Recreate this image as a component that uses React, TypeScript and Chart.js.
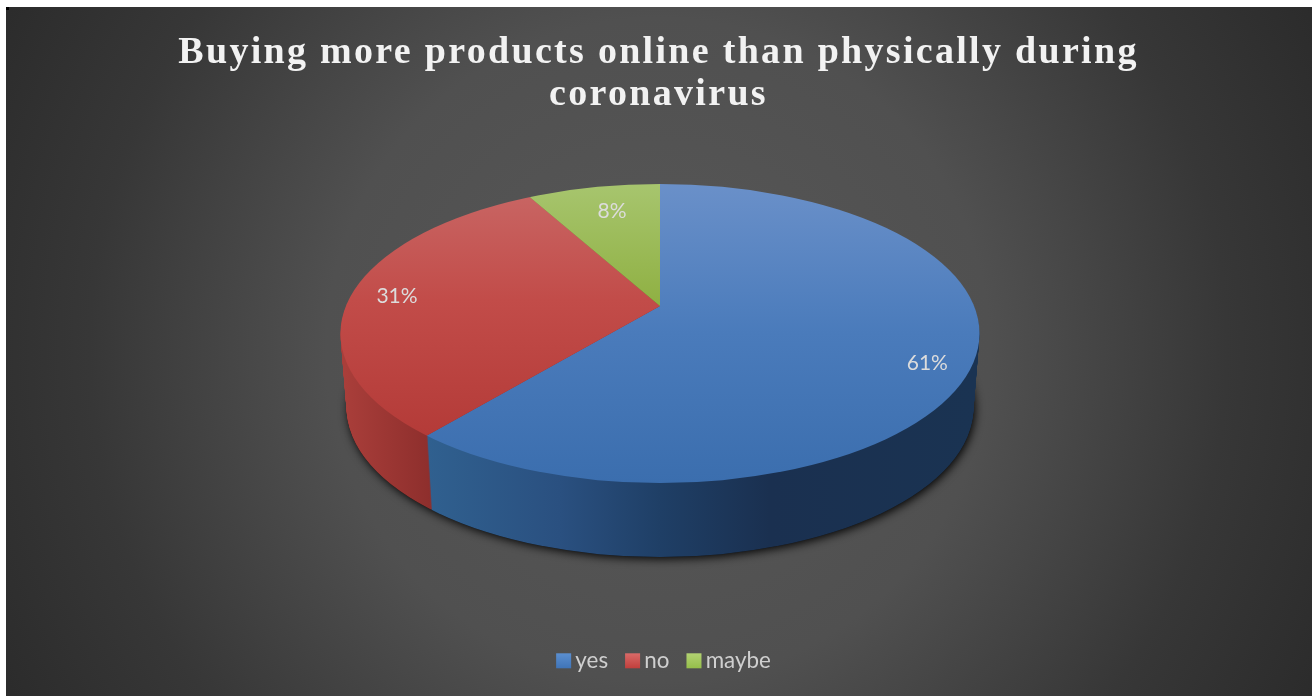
import React, { useEffect, useRef } from "react";
import { Chart, registerables } from "chart.js";

Chart.register(...registerables);

const titleLines = ["Buying more products online than physically during", "coronavirus"];
const categories = ["yes", "no", "maybe"];
const shares = [61, 31, 8];
const sliceColors = ["#4a7ebb", "#be4b48", "#98b954"];
const swatchTones = [
  ["#5b8fd0", "#3f74b8"],
  ["#d96a68", "#c23f3c"],
  ["#b2d272", "#95bf4a"],
];

// Stops for the lit top face of each slice: [canvas y, colour].
const topShades: [number, string][][] = [
  [[184, "#6a90c9"], [333, "#4a7bbb"], [483, "#3b6eae"]],
  [[198, "#c86462"], [300, "#c24c49"], [435, "#b43b38"]],
  [[184, "#a7c56e"], [306, "#8fb042"]],
];
// Stops for the side wall of each slice: [canvas x, colour].
const wallShades: [number, string][][] = [
  [[428, "#30608f"], [560, "#2a5080"], [660, "#1f3f66"], [770, "#1a3050"], [975, "#1a3352"]],
  [[345, "#a93e3a"], [433, "#8d2e2c"]],
  [[530, "#6f8a3a"], [660, "#5d7530"]],
];
const labelReach = [0.674, 0.629, 0.507];
const labelShiftX = [1, 0, 5];
const labelShiftY = [13, 2, 0];

// Geometry of the tilted disc on the canvas.
const APEX_X = 660;
const APEX_Y = 306;
const RIM_CY = 333.5;
const RIM_RX = 319.5;
const RIM_RY = 149.5;
const DEPTH = 74;
const FACE_R = 420;
const TILT = 0.46;
const TAPER = 0.019;

function shaded(
  ctx: CanvasRenderingContext2D,
  stops: [number, string][],
  axis: "x" | "y",
  toLocal: (v: number) => number,
) {
  const a = toLocal(stops[0][0]);
  const b = toLocal(stops[stops.length - 1][0]);
  const g = axis === "y" ? ctx.createLinearGradient(0, a, 0, b) : ctx.createLinearGradient(a, 0, b, 0);
  const span = stops[stops.length - 1][0] - stops[0][0];
  stops.forEach(([v, c]) => g.addColorStop((v - stops[0][0]) / span, c));
  return g;
}

const tiltedPie = {
  id: "tiltedPie",
  beforeDraw(chart: any) {
    const { ctx, width, height } = chart;
    ctx.save();
    ctx.fillStyle = "#ffffff";
    ctx.fillRect(0, 0, width, height);
    const bg = ctx.createRadialGradient(658, 350, 0, 658, 350, 790);
    bg.addColorStop(0, "#585858");
    bg.addColorStop(0.42, "#505050");
    bg.addColorStop(0.72, "#373737");
    bg.addColorStop(1, "#282828");
    ctx.fillStyle = bg;
    ctx.fillRect(6, 7, width - 6, height - 7);
    ctx.fillStyle = "#000000";
    ctx.fillRect(6, 7, 3, 3);
    ctx.restore();

    // Only the title is letter-spaced, so its draw call is wrapped on its own.
    const block = chart.titleBlock;
    if (block && !block.__spaced) {
      const draw = block.draw;
      block.draw = function (...args: any[]) {
        ctx.save();
        ctx.letterSpacing = "2.3px";
        ctx.translate(-7, 0);
        draw.apply(this, args);
        ctx.restore();
      };
      block.__spaced = true;
    }
  },
  beforeDatasetsDraw(chart: any) {
    const { ctx } = chart;
    const arcs = chart.getDatasetMeta(0).data;
    const r = arcs[0].outerRadius;
    const cx = arcs[0].x;
    const cy = arcs[0].y;
    const sx = FACE_R / r;
    const sy = sx * TILT;

    // Soft shadow cast by the underside of the disc.
    ctx.save();
    ctx.shadowColor = "rgba(0,0,0,0.95)";
    ctx.shadowBlur = 10;
    ctx.shadowOffsetX = 1.5;
    ctx.shadowOffsetY = 2;
    ctx.fillStyle = "#111111";
    ctx.beginPath();
    ctx.ellipse(APEX_X, RIM_CY + DEPTH, RIM_RX * (1 - TAPER), RIM_RY, 0, 0, Math.PI * 2);
    ctx.fill();
    ctx.restore();

    const paintLayer = (d: number) => {
      const k = 1 - (TAPER * d) / DEPTH;
      ctx.save();
      ctx.beginPath();
      ctx.ellipse(APEX_X, RIM_CY + d, RIM_RX * k, RIM_RY, 0, 0, Math.PI * 2);
      ctx.clip();
      ctx.translate(APEX_X, APEX_Y + d);
      ctx.scale(sx * k, sy);
      ctx.translate(-cx, -cy);
      arcs.forEach((arc: any, i: number) => {
        const fill =
          d === 0
            ? shaded(ctx, topShades[i], "y", (y) => cy + (y - APEX_Y) / sy)
            : shaded(ctx, wallShades[i], "x", (x) => cx + (x - APEX_X) / (sx * k));
        const own = arc.options;
        arc.options = Object.create(own, { backgroundColor: { value: fill } });
        arc.draw(ctx);
        arc.options = own;
      });
      ctx.restore();
    };

    for (let d = DEPTH; d >= 0; d--) paintLayer(d);

    // Percentage labels on the top face.
    ctx.save();
    ctx.font = '21px Lato, "Open Sans", sans-serif';
    ctx.fillStyle = "#dcdcdc";
    ctx.textAlign = "center";
    ctx.textBaseline = "middle";
    arcs.forEach((arc: any, i: number) => {
      const mid = (arc.startAngle + arc.endAngle) / 2;
      const reach = FACE_R * labelReach[i];
      const x = APEX_X + reach * Math.cos(mid) + labelShiftX[i];
      const y = APEX_Y + reach * TILT * Math.sin(mid) + labelShiftY[i];
      ctx.fillText(`${shares[i]}%`, x, y);
    });
    ctx.restore();
    return false;
  },
  afterDraw(chart: any) {
    // Legend swatches sit tighter to their text than the built-in box allows.
    const { ctx, legend } = chart;
    ctx.save();
    legend.legendHitBoxes.forEach((box: any, i: number) => {
      const mid = box.top + box.height / 2;
      const g = ctx.createLinearGradient(0, mid - 7.5, 0, mid + 7.5);
      g.addColorStop(0, swatchTones[i][0]);
      g.addColorStop(1, swatchTones[i][1]);
      ctx.fillStyle = g;
      ctx.fillRect(box.left - 4, mid - 7.5, 15, 15);
    });
    ctx.restore();
  },
};

export default function App() {
  const ref = useRef<HTMLCanvasElement>(null);

  useEffect(() => {
    document.body.style.margin = "0";
    document.body.style.background = "#ffffff";
    const chart = new Chart(ref.current!, {
      type: "pie",
      data: {
        labels: categories,
        datasets: [{ data: shares, backgroundColor: sliceColors, borderWidth: 0 }],
      },
      options: {
        responsive: false,
        animation: false,
        layout: { padding: { top: 32, bottom: 14, left: 19 } },
        plugins: {
          tooltip: { enabled: false },
          title: {
            display: true,
            text: titleLines,
            color: "#f2f2f2",
            font: { family: '"Liberation Serif", serif', size: 38, weight: "bold", lineHeight: 1.11 },
            padding: { top: 0, bottom: 10 },
          },
          legend: {
            display: true,
            position: "bottom",
            labels: {
              color: "#cfcfcf",
              font: { family: 'Lato, "Open Sans", sans-serif', size: 22.4 },
              boxWidth: 4,
              boxHeight: 15,
              padding: 21,
              generateLabels() {
                return categories.map((text, i) => ({
                  text,
                  fillStyle: "transparent",
                  lineWidth: 0,
                  strokeStyle: "transparent",
                  index: i,
                  fontColor: "#cfcfcf",
                }));
              },
            },
          },
        },
      },
      plugins: [tiltedPie],
    } as any);
    return () => chart.destroy();
  }, []);

  return (
    <div style={{ width: 1312, height: 696 }}>
      <canvas ref={ref} width={1312} height={696} style={{ display: "block" }} />
    </div>
  );
}
